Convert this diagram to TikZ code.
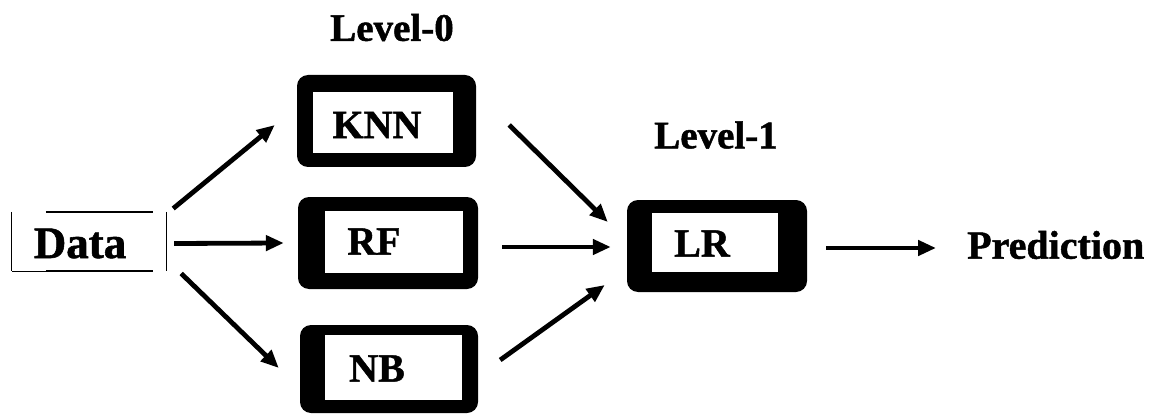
\documentclass[tikz,border=0pt]{standalone}
\usepackage{fontspec}
\setmainfont{Liberation Serif}
\newfontfamily\heavy[BoldFeatures={FakeBold=1.2}]{Liberation Serif}
\usetikzlibrary{arrows.meta,calc}
\begin{document}
\begin{tikzpicture}[x=1pt,y=-1pt,
  lbl/.style={font=\heavy\fontsize{40}{40}\selectfont\bfseries, inner sep=0pt},
  lvl/.style={font=\heavy\fontsize{39}{39}\selectfont\bfseries, inner sep=0pt},
  frame/.style={fill=black, draw=none, rounded corners=11pt, inner sep=0pt},
  arr/.style={line width=4.8pt, -{Triangle[length=18pt,width=15pt]}},
  thinb/.style={line width=1pt}]
\useasboundingbox (0,0) rectangle (1166,414);
% Data box
\node[inner sep=0pt, minimum width=154pt, minimum height=59pt] (data) at (89,241.5) {};
\node[lbl, font=\heavy\fontsize{45}{45}\selectfont\bfseries] (datatxt) at (80,243.5) {Data};
\draw[thinb] (data.north west) -- (data.south west);
\draw[thinb] (data.north east) -- (data.south east);
\draw[line width=2.2pt] ($(data.north west)+(34,0)$) -- ($(data.north east)+(-13,0)$);
\draw[thinb] (data.south west) -- ($(data.south west)+(34,0)$);
\draw[line width=2.2pt] ($(data.south west)+(34,0)$) -- ($(data.south east)+(-13,0)$);
% KNN
\node[frame, minimum width=179pt, minimum height=92pt] (knnbox) at (386.5,121) {};
\fill[white] (313,92) rectangle (453,153);
\node[lbl] (knn) at (377,125) {KNN};
% RF
\node[frame, minimum width=180pt, minimum height=92pt] (rfbox) at (388,243) {};
\fill[white] (325,211) rectangle (463,273);
\node[lbl] (rf) at (374,241.5) {RF};
% NB
\node[frame, minimum width=178pt, minimum height=88pt] (nbbox) at (389,369) {};
\fill[white] (325,335) rectangle (462,400);
\node[lbl] (nb) at (377,368.5) {NB};
% LR
\node[frame, minimum width=180pt, minimum height=92pt] (lrbox) at (717,246) {};
\fill[white] (652,213) rectangle (778,272);
\node[lbl] (lr) at (702,243.5) {LR};
% Level labels
\node[lvl] (lvl0) at (392,27.5) {Level-0};
\node[lvl] (lvl1) at (716,135) {Level-1};
% Prediction
\node[lbl, anchor=west] (pred) at (967,245) {Prediction};
% Arrows
\draw[arr] ($(data.east)+(7,-33)$) -- ($(knnbox.west)+(-22,4)$);
\draw[arr] ($(data.east)+(8,2)$) -- ($(rfbox.west)+(-14,0)$);
\draw[arr] ($(data.east)+(15,32)$) -- ($(nbbox.west)+(-21,-1)$);
\draw[arr] ($(knnbox.east)+(33,4)$) -- ($(lrbox.west)+(-19,-24)$);
\draw[arr] ($(rfbox.east)+(24,4)$) -- ($(lrbox.west)+(-16,1)$);
\draw[arr] ($(nbbox.east)+(22,-9)$) -- ($(lrbox.west)+(-22,39)$);
\draw[arr] ($(lrbox.east)+(19,2)$) -- ($(pred.west)+(-31,3)$);
\end{tikzpicture}
\end{document}
